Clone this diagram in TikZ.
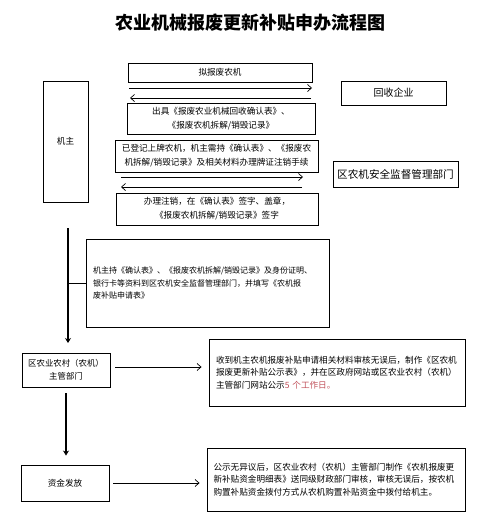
\documentclass[tikz,border=0pt]{standalone}
\usepackage{fontspec}
\setmainfont{Noto Sans CJK SC}
\usetikzlibrary{arrows.meta}
\definecolor{dayred}{RGB}{192,80,90}
\begin{document}
\begin{tikzpicture}[x=1pt,y=-1pt,
  box/.style={draw, line width=0.9pt, inner sep=0pt, align=center, font=\fontsize{8.6}{14}\selectfont},
  lbox/.style={draw, line width=0.9pt, inner ysep=0pt, align=left, font=\fontsize{8.6}{12.5}\selectfont},
  flow/.style={line width=0.7pt, -{Straight Barb[length=4pt,width=7pt]}},
  trunk/.style={line width=2.6pt, -{Stealth[length=5pt,width=6pt]}}]
\useasboundingbox (0,0) rectangle (500,525);
\node[font=\fontsize{18}{20}\selectfont\bfseries] (ttl) at (250,23){农业机械报废更新补贴申办流程图};
% top part
\node[box, minimum width=184, minimum height=19] (bx0) at (220,72.5){拟报废农机};
\node[box, minimum width=105, minimum height=24, font=\fontsize{10}{12}\selectfont] (bx1) at (393.5,93){回收企业};
\node[box, minimum width=188, minimum height=31] (bx2) at (221,118.5){出具《报废农业机械回收确认表》、\\《报废农机拆解/销毁记录》};
\node[box, minimum width=45, minimum height=121] (bx3) at (65.5,141.5){机主};
\node[box, minimum width=203, minimum height=32] (bx4) at (216.5,156){已登记上牌农机，机主需持《确认表》、《报废农\\机拆解/销毁记录》及相关材料办理牌证注销手续};
\node[box, minimum width=125, minimum height=26, font=\fontsize{10.6}{12}\selectfont] (bx5) at (395.5,174){区农机安全监督管理部门};
\node[box, minimum width=202, minimum height=32] (bx6) at (217,209){办理注销，在《确认表》签字、盖章，\\《报废农机拆解/销毁记录》签字};
\coordinate (a0s) at (129,88);
\coordinate (a0e) at (312,88);
\coordinate (a1s) at (311,98);
\coordinate (a1e) at (130,98);
\coordinate (a2s) at (121,177);
\coordinate (a2e) at (303,177);
\coordinate (a3s) at (302,187);
\coordinate (a3e) at (121,187);
\draw[flow](a0s) -- (a0e);
\draw[flow](a1s) -- (a1e);
\draw[flow](a2s) -- (a2e);
\draw[flow](a3s) -- (a3e);
% application
\node[lbox, text width=229, inner xsep=7, minimum height=88, font=\fontsize{8}{12.5}\selectfont] (bx7) at (207.5,283){机主持《确认表》、《报废农机拆解/销毁记录》及身份证明、\\银行卡等资料到区农机安全监督管理部门，并填写《农机报\\废补贴申请表》};
\coordinate (t0) at (68,228);
\coordinate (t1) at (68,343);
\coordinate (t2) at (68,283);
\draw[trunk](t0) -- (t1);
\draw[line width=0.9pt](t2) -- (bx7.west);
% review and payment
\node[box, minimum width=88, minimum height=34, font=\fontsize{8.4}{13}\selectfont] (bx8) at (66,370){区农业农村（农机）\\主管部门};
\node[lbox, text width=242, inner xsep=7, minimum height=67] (bx9) at (337,372.5){收到机主农机报废补贴申请相关材料审核无误后，制作《区农机\\报废更新补贴公示表》，并在区政府网站或区农业农村（农机）\\主管部门网站公示\textcolor{dayred}{ 5 个工作日。}};
\node[box, minimum width=88, minimum height=36] (bx10) at (65,483){资金发放};
\node[lbox, text width=245, inner xsep=6.5, minimum height=63] (bx11) at (336,479.5){公示无异议后，区农业农村（农机）主管部门制作《农机报废更\\新补贴资金明细表》送同级财政部门审核，审核无误后，按农机\\购置补贴资金拨付方式从农机购置补贴资金中拨付给机主。};
\draw[flow]([xshift=5pt,yshift=3pt]bx8.east) -- ([xshift=-7pt,yshift=3pt]bx8.east -| bx9.west);
\draw[trunk]([yshift=-6pt]bx8.south) -- ([yshift=9pt]bx8.south |- bx10.north);
\draw[flow]([xshift=4pt]bx10.east) -- ([xshift=-7pt]bx10.east -| bx11.west);
\end{tikzpicture}
\end{document}
